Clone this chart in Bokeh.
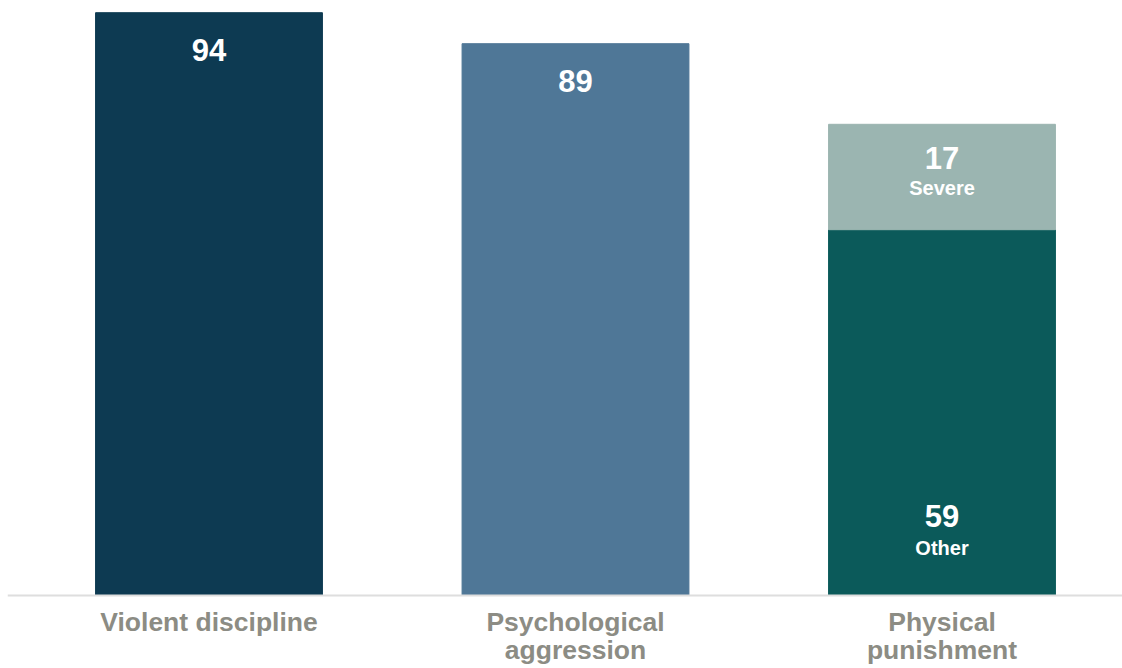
from bokeh.plotting import figure
from bokeh.models import ColumnDataSource, Range1d, Span
from bokeh.core.properties import value
from bokeh.embed import file_html
from bokeh.resources import INLINE

# Share of children (%) experiencing each form of discipline
categories = ["Violent discipline", "Psychological\naggression", "Physical\npunishment"]
totals = [94, 89, None]
physical_other = 59
physical_severe = 17

FONT = "Liberation Sans"

p = figure(width=1122, height=668, output_backend="svg", toolbar_location=None,
           x_range=Range1d(-0.5498, 2.4925), y_range=Range1d(-11.774, 95.968),
           min_border_left=7, min_border_right=0, min_border_top=0, min_border_bottom=0)
p.background_fill_color = "white"
p.border_fill_color = "white"
p.outline_line_color = None
p.grid.visible = False
p.axis.visible = False

bar_w = 0.619

# Single-value bars
single = ColumnDataSource(dict(x=[0, 1], top=[totals[0], totals[1]],
                               color=["#0d3a52", "#4f7797"],
                               label=[str(totals[0]), str(totals[1])]))
p.vbar(x="x", top="top", bottom=0, width=bar_w, color="color", source=single)
p.text(x="x", y="top", text="label", source=single, y_offset=37,
       text_align="center", text_baseline="middle", text_color="white",
       text_font=value(FONT), text_font_style="bold", text_font_size="31px")

# Stacked bar for physical punishment
stack = ColumnDataSource(dict(x=[2, 2], bottom=[0, physical_other],
                              top=[physical_other, physical_other + physical_severe],
                              color=["#0b5a5a", "#9bb5b1"]))
p.vbar(x="x", top="top", bottom="bottom", width=bar_w, color="color", source=stack)

sev = ColumnDataSource(dict(x=[2], y=[physical_other + physical_severe],
                            label=[str(physical_severe)], name=["Severe"]))
p.text(x="x", y="y", text="label", source=sev, y_offset=34,
       text_align="center", text_baseline="middle", text_color="white",
       text_font=value(FONT), text_font_style="bold", text_font_size="31px")
p.text(x="x", y="y", text="name", source=sev, y_offset=64,
       text_align="center", text_baseline="middle", text_color="white",
       text_font=value(FONT), text_font_style="bold", text_font_size="20px")

oth = ColumnDataSource(dict(x=[2], y=[0], label=[str(physical_other)], name=["Other"]))
p.text(x="x", y="y", text="label", source=oth, y_offset=-80,
       text_align="center", text_baseline="middle", text_color="white",
       text_font=value(FONT), text_font_style="bold", text_font_size="31px")
p.text(x="x", y="y", text="name", source=oth, y_offset=-48,
       text_align="center", text_baseline="middle", text_color="white",
       text_font=value(FONT), text_font_style="bold", text_font_size="20px")

# Baseline
p.add_layout(Span(location=0, dimension="width", line_color="#dedede", line_width=2))

# Category labels under the baseline
cats = ColumnDataSource(dict(x=[0, 1, 2], y=[0, 0, 0], label=categories))
p.text(x="x", y="y", text="label", source=cats, y_offset=11,
       text_align="center", text_baseline="top", text_color="#8c8c84",
       text_line_height=0.95,
       text_font=value(FONT), text_font_style="bold", text_font_size="26.5px")

open("out.html", "w").write(file_html(p, INLINE))
